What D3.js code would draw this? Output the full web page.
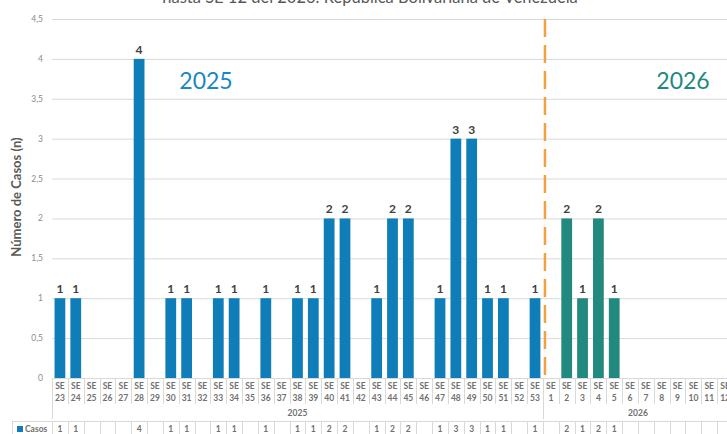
<!DOCTYPE html>
<html>
<head>
<meta charset="utf-8">
<script src="https://cdn.jsdelivr.net/npm/d3@7"></script>
<style>
  body { margin: 0; background: #fff; overflow: hidden; }
  svg { font-family: Lato, "Open Sans", sans-serif; display: block; }
</style>
</head>
<body>
<div id="chart"></div>
<script>
// weeks of 2025 and 2026 (epidemiological weeks)
const weeks2025 = d3.range(23, 54);
const weeks2026 = d3.range(1, 13);
const cases2025 = [1,1,0,0,0,4,0,1,1,0,1,1,0,1,0,1,1,2,2,0,1,2,2,0,1,3,3,1,1,0,1];
const cases2026 = [0,2,1,2,1,0,0,0,0,0,0,0];
const yTicks = [0, 0.5, 1, 1.5, 2, 2.5, 3, 3.5, 4, 4.5];
const title = "hasta SE 12 del 2026. República Bolivariana de Venezuela";

const colors = { "2025": "#0E7DB8", "2026": "#22897F" };

const data = [
  ...weeks2025.map((w, i) => ({ key: "2025-" + w, year: "2025", week: w, value: cases2025[i] })),
  ...weeks2026.map((w, i) => ({ key: "2026-" + w, year: "2026", week: w, value: cases2026[i] }))
];

const width = 727, height = 434;
const plotLeft = 52, plotRight = 733, plotTop = 19, plotBottom = 378;

const svg = d3.select("#chart").append("svg")
  .attr("width", width)
  .attr("height", height);

const x = d3.scaleBand()
  .domain(data.map(d => d.key))
  .range([plotLeft, plotRight])
  .paddingInner(0.32)
  .paddingOuter(0.16);

const y = d3.scaleLinear().domain([0, 4.5]).range([plotBottom, plotTop]);

const step = x.step();
const cellLeft = d => x(d.key) - x.paddingInner() * step / 2;

// title (cut off at the top)
svg.append("text")
  .attr("x", 370).attr("y", 3)
  .attr("text-anchor", "middle")
  .attr("font-size", 16.5)
  .attr("fill", "#595959")
  .text(title);

// gridlines
svg.append("g")
  .selectAll("line")
  .data(yTicks)
  .join("line")
  .attr("x1", plotLeft).attr("x2", width)
  .attr("y1", d => y(d) + 0.5).attr("y2", d => y(d) + 0.5)
  .attr("stroke", "#d9d9d9");

// y tick labels
svg.append("g")
  .selectAll("text")
  .data(yTicks)
  .join("text")
  .attr("x", 43)
  .attr("y", d => y(d) + 3)
  .attr("text-anchor", "end")
  .attr("font-size", 8.5)
  .attr("fill", "#8c8c8c")
  .text(d => d3.format(".1~f")(d).replace(".", ","));

// y axis title
svg.append("text")
  .attr("transform", "translate(21,197) rotate(-90)")
  .attr("text-anchor", "middle")
  .attr("font-size", 13)
  .attr("font-weight", "bold")
  .attr("fill", "#595959")
  .text("Número de Casos (n)");

// year labels inside plot
svg.append("text")
  .attr("x", 206).attr("y", 89)
  .attr("text-anchor", "middle")
  .attr("font-size", 23)
  .attr("fill", "#1B87C4")
  .text("2025");
svg.append("text")
  .attr("x", 683).attr("y", 89)
  .attr("text-anchor", "middle")
  .attr("font-size", 23)
  .attr("fill", colors["2026"])
  .text("2026");

// bars
svg.append("g")
  .selectAll("rect")
  .data(data.filter(d => d.value > 0))
  .join("rect")
  .attr("x", d => x(d.key))
  .attr("y", d => y(d.value))
  .attr("width", x.bandwidth())
  .attr("height", d => y(0) - y(d.value))
  .attr("fill", d => colors[d.year]);

// bar value labels
svg.append("g")
  .selectAll("text")
  .data(data.filter(d => d.value > 0))
  .join("text")
  .attr("x", d => x(d.key) + x.bandwidth() / 2)
  .attr("y", d => y(d.value) - 5)
  .attr("text-anchor", "middle")
  .attr("font-size", 12)
  .attr("font-weight", "bold")
  .attr("fill", "#404040")
  .text(d => d.value);

// dashed separator between years
const sepX = cellLeft(data[weeks2025.length]) + 2;
svg.append("line")
  .attr("x1", sepX).attr("x2", sepX)
  .attr("y1", plotTop).attr("y2", plotBottom + 3)
  .attr("stroke", "#F4A040")
  .attr("stroke-width", 2.5)
  .attr("stroke-dasharray", "18,8");

// category axis
const axis = svg.append("g");
axis.append("line")
  .attr("x1", plotLeft).attr("x2", width)
  .attr("y1", plotBottom + 0.5).attr("y2", plotBottom + 0.5)
  .attr("stroke", "#d9d9d9");

axis.selectAll("line.cell")
  .data(data)
  .join("line")
  .attr("class", "cell")
  .attr("x1", d => Math.round(cellLeft(d)) + 0.5)
  .attr("x2", d => Math.round(cellLeft(d)) + 0.5)
  .attr("y1", plotBottom)
  .attr("y2", d => (d.week === 23 || (d.year === "2026" && d.week === 1)) ? 419 : 404)
  .attr("stroke", "#d9d9d9");

axis.selectAll("text.se")
  .data(data)
  .join("text")
  .attr("class", "se")
  .attr("x", d => x(d.key) + x.bandwidth() / 2)
  .attr("y", 389)
  .attr("text-anchor", "middle")
  .attr("font-size", 8.5)
  .attr("font-weight", "bold")
  .attr("fill", "#707070")
  .text("SE");

axis.selectAll("text.wk")
  .data(data)
  .join("text")
  .attr("class", "wk")
  .attr("x", d => x(d.key) + x.bandwidth() / 2)
  .attr("y", 401)
  .attr("text-anchor", "middle")
  .attr("font-size", 8.5)
  .attr("font-weight", "bold")
  .attr("fill", "#707070")
  .text(d => d.week);

// year group labels
const groups = [
  { year: "2025", first: data[0], last: data[weeks2025.length - 1] },
  { year: "2026", first: data[weeks2025.length], last: data[data.length - 1] }
];
axis.selectAll("text.yr")
  .data(groups)
  .join("text")
  .attr("class", "yr")
  .attr("x", g => (cellLeft(g.first) + cellLeft(g.last) + step) / 2)
  .attr("y", 416)
  .attr("text-anchor", "middle")
  .attr("font-size", 8.5)
  .attr("font-weight", "bold")
  .attr("fill", "#707070")
  .text(g => g.year);

// data table
const table = svg.append("g");
table.append("line")
  .attr("x1", 12).attr("x2", width)
  .attr("y1", 421.5).attr("y2", 421.5)
  .attr("stroke", "#d9d9d9");
table.append("line")
  .attr("x1", 12.5).attr("x2", 12.5)
  .attr("y1", 421).attr("y2", height)
  .attr("stroke", "#d9d9d9");
table.selectAll("line.tc")
  .data(data)
  .join("line")
  .attr("class", "tc")
  .attr("x1", d => Math.round(cellLeft(d)) + 0.5)
  .attr("x2", d => Math.round(cellLeft(d)) + 0.5)
  .attr("y1", 421).attr("y2", height)
  .attr("stroke", "#d9d9d9");
table.append("rect")
  .attr("x", 17).attr("y", 426)
  .attr("width", 6).attr("height", 6)
  .attr("fill", colors["2025"]);
table.append("text")
  .attr("x", 25).attr("y", 432)
  .attr("font-size", 8.5)
  .attr("font-weight", "bold")
  .attr("fill", "#707070")
  .text("Casos");
table.selectAll("text.val")
  .data(data.filter(d => d.value > 0))
  .join("text")
  .attr("class", "val")
  .attr("x", d => x(d.key) + x.bandwidth() / 2)
  .attr("y", 432)
  .attr("text-anchor", "middle")
  .attr("font-size", 8.5)
  .attr("font-weight", "bold")
  .attr("fill", "#707070")
  .text(d => d.value);
</script>
</body>
</html>
